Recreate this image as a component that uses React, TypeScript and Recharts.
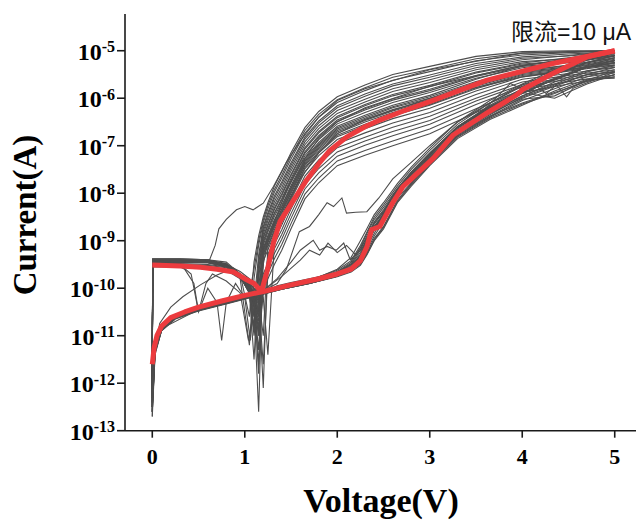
import { LineChart, Line, XAxis, YAxis } from 'recharts';

// voltage grids (V) for the two sweep directions
const V_UP = [5.0, 4.5, 4.0, 3.5, 3.0, 2.6, 2.3, 2.0, 1.8, 1.65, 1.5, 1.4, 1.32, 1.25, 1.2, 1.15, 1.1, 1.05, 0.95, 0.8, 0.6, 0.3, 0.004, 0];
const V_LOW = [0, 0.03, 0.1, 0.25, 0.5, 0.8, 1.1, 1.4, 1.7, 2.0, 2.15, 2.25, 2.32, 2.4, 2.5, 2.65, 2.8, 3.0, 3.3, 3.65, 4.0, 4.35, 4.7, 5.0];

// gray cycles, return sweep 5 -> 0 V (log10 of current)
const U01 = [-5.0, -5.0, -5.02, -5.12, -5.33, -5.5, -5.72, -5.97, -6.28, -6.62, -7.15, -7.55, -7.85, -8.2, -8.5, -8.9, -9.45, -10.6, -9.7, -9.45, -9.4, -9.38, -9.38, -12.5];
const U02 = [-5.0, -5.02, -5.05, -5.17, -5.39, -5.56, -5.78, -6.03, -6.34, -6.68, -7.21, -7.62, -7.92, -8.26, -8.56, -9.0, -9.6, -10.1, -9.75, -9.5, -9.42, -9.4, -9.4, -12.2];
const U03 = [-5.0, -5.04, -5.09, -5.21, -5.44, -5.62, -5.84, -6.09, -6.4, -6.74, -7.28, -7.68, -7.98, -8.33, -8.62, -9.1, -9.8, -11.2, -9.8, -9.52, -9.42, -9.4, -9.4, -12.7];
const U04 = [-5.02, -5.07, -5.13, -5.27, -5.51, -5.7, -5.91, -6.16, -6.48, -6.82, -7.36, -7.76, -8.06, -8.41, -8.7, -9.3, -10.3, -9.9, -9.7, -9.48, -9.4, -9.38, -9.38, -12.0];
const U05 = [-5.0, -5.1, -5.19, -5.36, -5.61, -5.8, -6.02, -6.26, -6.58, -6.92, -7.47, -7.88, -8.18, -8.52, -8.8, -9.5, -10.8, -10.0, -9.72, -9.5, -9.43, -9.42, -9.42, -12.3];
const U06 = [-5.03, -5.15, -5.26, -5.45, -5.73, -5.92, -6.13, -6.38, -6.7, -7.04, -7.6, -8.01, -8.31, -8.65, -8.92, -9.7, -11.5, -10.1, -9.75, -9.5, -9.42, -9.4, -9.4, -12.6];
const U07 = [-5.05, -5.2, -5.31, -5.52, -5.81, -6.01, -6.22, -6.46, -6.79, -7.13, -7.69, -8.11, -8.41, -8.74, -9.01, -10.0, -10.4, -10.0, -9.74, -9.52, -9.45, -9.43, -9.42, -12.1];
const U08 = [-5.1, -5.24, -5.36, -5.58, -5.88, -6.09, -6.3, -6.54, -6.87, -7.21, -7.77, -8.19, -8.49, -8.82, -9.09, -10.6, -10.2, -9.95, -9.72, -9.5, -9.44, -9.42, -9.42, -12.4];
const U09 = [-5.0, -5.16, -5.32, -5.6, -5.94, -6.15, -6.36, -6.59, -6.93, -7.27, -7.84, -8.26, -8.56, -8.89, -9.15, -11.0, -10.3, -10.0, -9.75, -9.52, -9.45, -9.43, -9.43, -12.2];
const U10 = [-5.15, -5.3, -5.42, -5.67, -6.0, -6.2, -6.42, -6.65, -6.99, -7.33, -7.9, -8.33, -8.63, -8.95, -9.2, -12.6, -10.4, -10.05, -9.78, -9.55, -9.46, -9.45, -9.45, -12.5];
const U11 = [-5.2, -5.36, -5.46, -5.72, -6.05, -6.27, -6.47, -6.71, -7.05, -7.39, -7.97, -8.39, -8.69, -9.02, -9.27, -10.5, -10.1, -9.95, -9.7, -9.5, -9.43, -9.42, -9.4, -11.9];
const U12 = [-5.25, -5.39, -5.5, -5.78, -6.13, -6.34, -6.55, -6.78, -7.12, -7.46, -8.05, -8.47, -8.77, -9.1, -9.34, -10.9, -10.2, -9.98, -9.72, -9.52, -9.45, -9.44, -9.44, -12.3];
const U13 = [-5.3, -5.43, -5.55, -5.85, -6.21, -6.43, -6.64, -6.87, -7.21, -7.55, -8.14, -8.57, -8.87, -9.19, -9.43, -11.3, -10.3, -10.0, -9.75, -9.55, -9.47, -9.46, -9.46, -12.6];
const U14 = [-5.35, -5.48, -5.6, -5.92, -6.3, -6.52, -6.73, -6.96, -7.3, -7.64, -8.24, -8.67, -8.97, -9.29, -12.1, -10.2, -10.0, -9.9, -9.7, -9.5, -9.43, -9.42, -9.42, -12.0];
const U15 = [-5.4, -5.52, -5.66, -6.0, -6.38, -6.61, -6.82, -7.04, -7.39, -7.73, -8.33, -8.77, -9.07, -11.4, -10.2, -10.0, -9.9, -9.8, -9.65, -9.5, -9.45, -9.44, -9.44, -12.2];
const U16 = [-5.44, -5.56, -5.71, -6.06, -6.47, -6.7, -6.9, -7.13, -7.48, -7.82, -8.43, -8.87, -9.17, -9.48, -9.7, -11.8, -10.2, -9.95, -9.72, -9.55, -9.5, -9.48, -9.48, -12.4];
const U17 = [-5.47, -5.6, -5.76, -6.13, -6.55, -6.79, -6.99, -7.22, -7.57, -7.91, -8.53, -8.97, -9.27, -9.58, -9.79, -10.6, -10.1, -9.95, -9.75, -9.57, -9.52, -9.5, -9.5, -12.0];
const U18 = [-5.51, -5.65, -5.82, -6.22, -6.65, -6.9, -7.1, -7.32, -7.68, -8.02, -8.64, -9.08, -9.38, -9.69, -11.6, -10.3, -10.05, -9.95, -9.78, -9.6, -9.55, -9.53, -9.52, -12.3];
const U19 = [-5.55, -5.7, -5.88, -6.3, -6.75, -7.0, -7.2, -7.42, -7.78, -8.12, -8.75, -9.2, -9.5, -9.8, -10.0, -10.8, -10.25, -10.0, -9.8, -9.62, -9.56, -9.55, -9.55, -12.1];
const U20 = [-5.02, -5.11, -5.16, -5.31, -5.56, -5.74, -5.96, -6.2, -6.52, -6.86, -7.41, -7.81, -8.11, -8.46, -8.74, -9.4, -10.6, -10.0, -9.72, -9.5, -9.42, -9.4, -9.4, -12.3];
const U21 = [-5.06, -5.17, -5.23, -5.4, -5.67, -5.86, -6.08, -6.32, -6.64, -6.98, -7.53, -7.95, -8.25, -8.58, -8.86, -9.6, -10.9, -10.05, -9.74, -9.5, -9.43, -9.41, -9.41, -12.5];
const U22 = [-5.08, -5.21, -5.28, -5.47, -5.76, -5.95, -6.16, -6.41, -6.73, -7.07, -7.63, -8.05, -8.35, -8.68, -8.95, -9.8, -10.6, -10.0, -9.73, -9.5, -9.43, -9.41, -9.41, -12.2];
const U23 = [-5.12, -5.25, -5.33, -5.54, -5.84, -6.04, -6.25, -6.49, -6.82, -7.16, -7.73, -8.14, -8.44, -8.78, -9.04, -10.2, -11.0, -10.1, -9.76, -9.53, -9.46, -9.44, -9.44, -12.4];
const U24 = [-5.15, -5.32, -5.41, -5.65, -5.97, -6.18, -6.39, -6.62, -6.96, -7.3, -7.87, -8.29, -8.59, -8.92, -9.18, -10.7, -10.3, -10.0, -9.74, -9.52, -9.45, -9.43, -9.43, -12.6];
const U25 = [-5.18, -5.34, -5.44, -5.7, -6.03, -6.24, -6.45, -6.68, -7.02, -7.36, -7.93, -8.36, -8.66, -8.98, -9.24, -11.6, -10.2, -9.98, -9.73, -9.5, -9.44, -9.42, -9.42, -12.0];
const U26 = [-5.22, -5.37, -5.48, -5.75, -6.08, -6.3, -6.5, -6.74, -7.08, -7.42, -8.0, -8.42, -8.72, -9.05, -9.3, -10.4, -10.9, -10.1, -9.76, -9.53, -9.46, -9.45, -9.45, -12.3];
const U27 = [-5.27, -5.41, -5.52, -5.8, -6.15, -6.37, -6.58, -6.81, -7.15, -7.49, -8.08, -8.51, -8.81, -9.13, -11.0, -10.2, -10.0, -9.92, -9.72, -9.52, -9.45, -9.44, -9.44, -12.5];

// gray cycles, forward sweep 0 -> 5 V
const L01 = [-12.4, -11.3, -10.85, -10.6, -10.42, -10.27, -10.12, -9.97, -9.85, -9.6, -9.35, -9.0, -8.75, -8.45, -8.2, -7.8, -7.45, -7.05, -6.5, -6.05, -5.7, -5.4, -5.15, -5.02];
const L02 = [-12.1, -11.25, -10.82, -10.58, -10.43, -10.28, -10.13, -9.98, -9.86, -9.65, -9.45, -9.15, -8.85, -8.55, -8.3, -7.9, -7.55, -7.15, -6.6, -6.15, -5.8, -5.5, -5.25, -5.1];
const L03 = [-12.6, -11.35, -10.88, -10.62, -10.45, -10.3, -10.15, -10.0, -9.88, -9.72, -9.55, -9.3, -9.0, -8.65, -8.4, -7.95, -7.6, -7.2, -6.62, -6.2, -5.9, -5.6, -5.35, -5.2];
const L04 = [-12.3, -11.2, -10.8, -10.57, -10.42, -10.27, -10.12, -9.96, -9.85, -9.68, -9.5, -9.25, -8.95, -8.7, -8.45, -8.0, -7.65, -7.25, -6.7, -6.3, -5.95, -5.7, -5.45, -5.3];
const L05 = [-12.7, -11.4, -10.9, -10.65, -10.48, -10.33, -10.18, -10.02, -9.9, -9.75, -9.62, -9.45, -9.2, -8.9, -8.6, -8.1, -7.78, -7.38, -6.8, -6.4, -6.05, -5.8, -5.55, -5.4];
const L06 = [-12.2, -11.3, -10.86, -10.6, -10.44, -10.29, -10.14, -9.99, -9.87, -9.7, -9.55, -9.35, -9.05, -8.75, -8.5, -7.98, -7.62, -7.22, -6.62, -6.2, -5.88, -6.0, -5.7, -5.5];
const L07 = [-12.5, -11.35, -10.9, -10.63, -10.46, -10.31, -10.16, -10.01, -9.89, -9.74, -9.6, -9.4, -9.1, -8.72, -8.52, -8.02, -7.68, -7.28, -6.72, -6.32, -6.0, -5.75, -5.5, -5.45];
const L08 = [-12.0, -11.3, -10.87, -10.62, -10.46, -10.31, -10.16, -10.02, -9.9, -9.76, -9.66, -9.52, -9.3, -9.0, -8.75, -8.2, -7.85, -7.42, -6.85, -6.45, -6.15, -5.85, -5.6, -5.58];
const L09 = [-12.6, -11.25, -10.84, -10.59, -10.43, -10.28, -10.13, -9.98, -9.86, -9.68, -9.52, -9.3, -8.98, -8.62, -8.38, -7.92, -7.58, -7.18, -6.6, -6.18, -5.82, -5.62, -5.35, -5.25];
const L10 = [-12.3, -11.3, -10.86, -10.6, -10.44, -10.29, -10.14, -9.99, -9.87, -9.72, -9.58, -9.38, -9.08, -8.78, -8.55, -8.05, -7.7, -7.3, -6.75, -6.35, -5.98, -5.72, -5.5, -5.35];
const L11 = [-12.4, -11.3, -10.88, -10.63, -10.47, -10.32, -10.17, -10.02, -9.9, -9.74, -9.62, -9.48, -9.25, -8.95, -8.7, -8.15, -7.8, -7.35, -6.78, -6.38, -6.1, -5.88, -5.65, -5.5];
const L12 = [-12.0, -11.2, -10.78, -10.55, -10.4, -10.25, -10.1, -9.95, -9.83, -9.62, -9.42, -9.1, -8.82, -8.5, -8.25, -7.85, -7.5, -7.1, -6.55, -6.1, -5.72, -5.45, -5.2, -5.05];
const L13 = [-12.2, -11.28, -10.84, -10.6, -10.44, -10.29, -10.14, -9.99, -9.87, -9.66, -9.48, -9.2, -8.9, -8.6, -8.35, -7.92, -7.56, -7.16, -6.6, -6.17, -5.84, -5.58, -5.32, -5.15];
const L14 = [-12.5, -11.33, -10.87, -10.61, -10.45, -10.3, -10.15, -10.0, -9.88, -9.73, -9.58, -9.36, -9.06, -8.7, -8.48, -8.0, -7.66, -7.26, -6.7, -6.3, -5.96, -5.66, -5.42, -5.32];
const L15 = [-12.0, -11.27, -10.85, -10.6, -10.44, -10.29, -10.14, -9.99, -9.87, -9.7, -9.56, -9.33, -9.03, -8.74, -8.48, -8.0, -7.68, -7.3, -6.75, -6.38, -6.02, -5.95, -5.62, -5.42];
const L16 = [-12.6, -11.36, -10.89, -10.63, -10.47, -10.32, -10.17, -10.02, -9.9, -9.75, -9.63, -9.5, -9.28, -8.98, -8.72, -8.18, -7.82, -7.4, -6.82, -6.42, -6.12, -5.9, -5.62, -5.55];

// a few noisy cycles with their own voltage points
const N1_V = [5.0, 4.0, 3.0, 2.3, 2.0, 1.8, 1.6, 1.45, 1.31, 1.2, 1.09, 1.0, 0.91, 0.8, 0.72, 0.68, 0.62, 0.3, 0.004, 0];
const N1 = [-5.0, -5.05, -5.4, -5.8, -6.05, -6.4, -6.9, -7.35, -7.86, -8.21, -8.35, -8.28, -8.35, -8.55, -8.75, -9.1, -9.4, -9.4, -9.4, -12.4];
const N2_V = [0, 0.03, 0.1, 0.5, 0.8, 1.2, 1.35, 1.45, 1.59, 1.7, 1.8, 1.89, 1.96, 2.05, 2.1, 2.2, 2.32, 2.45, 2.6, 2.8, 3.0, 3.3, 3.65, 4.0, 4.35, 4.7, 5.0];
const N2 = [-12.3, -11.3, -10.85, -10.45, -10.3, -10.05, -9.9, -9.6, -8.81, -8.7, -8.45, -8.2, -8.28, -8.1, -8.42, -8.4, -8.39, -8.1, -7.7, -7.35, -7.0, -6.5, -6.1, -5.75, -5.5, -5.25, -5.1];
const N3_V = [1.2, 1.35, 1.5, 1.6, 1.74, 1.81, 1.89, 1.99, 2.07, 2.14, 2.25, 2.35, 2.45, 2.6, 2.8, 3.0, 3.3, 3.65, 4.0, 4.35, 4.7, 5.0];
const N3 = [-10.05, -9.8, -9.45, -9.2, -8.99, -9.2, -9.12, -9.2, -9.05, -9.4, -9.2, -8.95, -8.6, -8.05, -7.6, -7.2, -6.62, -6.22, -5.88, -5.6, -5.35, -5.3];
const N4_V = [1.2, 1.4, 1.6, 1.7, 1.81, 1.9, 2.0, 2.1, 2.2, 2.3, 2.4, 2.55, 2.7, 2.9, 3.1, 3.4, 3.8, 3.87, 3.98, 4.08, 4.16, 4.26, 4.37, 4.48, 4.55, 5.0];
const N4 = [-10.05, -9.75, -9.41, -9.2, -9.3, -9.05, -9.25, -9.1, -9.3, -9.0, -8.7, -8.3, -7.9, -7.55, -7.15, -6.6, -5.83, -5.69, -5.79, -5.86, -5.76, -5.9, -5.72, -5.97, -5.79, -5.45];
const N5_V = [5.0, 4.0, 3.0, 2.3, 2.0, 1.8, 1.6, 1.45, 1.35, 1.25, 1.18, 1.1, 1.06, 1.0, 0.9, 0.8, 0.75, 0.7, 0.6, 0.5, 0.45, 0.35, 0.2, 0.004, 0];
const N5 = [-5.25, -5.55, -6.0, -6.45, -6.75, -7.15, -7.7, -8.3, -8.8, -9.35, -10.4, -10.2, -11.1, -10.2, -9.9, -10.3, -11.1, -10.3, -10.0, -10.5, -9.9, -9.6, -9.45, -9.42, -12.2];
const N6_V = [0, 0.03, 0.08, 0.2, 0.33, 0.52, 0.7, 0.88, 1.0, 1.1, 1.15, 1.2, 1.35, 1.5, 1.8, 2.0, 2.2, 2.3, 2.4, 2.5, 2.65, 2.8, 3.0, 3.3, 3.65, 4.0, 4.35, 4.7, 5.0];
const N6 = [-12.5, -11.3, -10.74, -10.4, -10.18, -9.93, -9.72, -9.58, -9.8, -10.3, -11.0, -10.1, -9.95, -9.88, -9.76, -9.66, -9.45, -9.2, -8.85, -8.5, -8.0, -7.65, -7.25, -6.65, -6.25, -5.9, -5.6, -5.35, -5.2];
const N7_V = [5.0, 4.0, 3.0, 2.3, 2.0, 1.8, 1.6, 1.45, 1.35, 1.25, 1.2, 1.15, 1.1, 1.04, 0.95, 0.8, 0.65, 0.58, 0.5, 0.42, 0.3, 0.004, 0];
const N7 = [-5.1, -5.3, -5.75, -6.2, -6.5, -6.85, -7.4, -7.95, -8.45, -9.0, -9.5, -10.1, -10.4, -11.1, -10.1, -9.85, -9.7, -9.9, -10.5, -9.7, -9.5, -9.45, -12.5];

// highlighted cycle (red)
const RED_V_FWD = [0, 0.02, 0.05, 0.1, 0.2, 0.35, 0.5, 0.75, 1.0, 1.2, 1.5, 1.8, 2.0, 2.15, 2.25, 2.32, 2.37, 2.46, 2.6, 2.71, 2.79, 3.04, 3.25, 3.62, 3.94, 4.01, 4.33, 4.7, 5.0];
const RED_FWD = [-11.6, -11.25, -11.0, -10.8, -10.62, -10.5, -10.4, -10.27, -10.15, -10.07, -9.93, -9.8, -9.7, -9.6, -9.42, -9.13, -8.77, -8.7, -8.2, -7.86, -7.72, -7.26, -6.78, -6.31, -5.93, -5.81, -5.48, -5.13, -5.0];
const RED_V_REV = [5.0, 4.33, 3.62, 3.0, 2.7, 2.46, 2.3, 2.1, 1.92, 1.8, 1.67, 1.53, 1.38, 1.31, 1.24, 1.18, 1.1, 1.0, 0.88, 0.7, 0.52, 0.3, 0];
const RED_REV = [-5.0, -5.27, -5.62, -6.07, -6.28, -6.46, -6.6, -6.82, -7.1, -7.38, -7.72, -8.14, -8.6, -9.05, -9.65, -10.07, -9.9, -9.8, -9.66, -9.6, -9.56, -9.53, -9.51];

const UPPER = [U01, U02, U03, U04, U05, U06, U07, U08, U09, U10, U11, U12, U13, U14, U15, U16, U17, U18, U19, U20, U21, U22, U23, U24, U25, U26, U27];
const LOWER = [L01, L02, L03, L04, L05, L06, L07, L08, L09, L10, L11, L12, L13, L14, L15, L16];
const NOISY: [number[], number[]][] = [[N1_V, N1], [N2_V, N2], [N3_V, N3], [N4_V, N4], [N5_V, N5], [N6_V, N6], [N7_V, N7]];

const X_TICKS = [0, 1, 2, 3, 4, 5];
const Y_TICKS = [1e-13, 1e-12, 1e-11, 1e-10, 1e-9, 1e-8, 1e-7, 1e-6, 1e-5];

const toPts = (vs: number[], exps: number[]) =>
  vs.map((v, k) => ({ v, i: Math.pow(10, exps[k]) }));

const SERIF = '"Liberation Serif", "Times New Roman", serif';
const GRAY = '#4d4d4d';
const RED = '#ec3b3e';
const AXIS = '#1a1a1a';

function YTick({ x, y, payload }: any) {
  const exp = Math.round(Math.log10(payload.value));
  return (
    <text x={x} y={y + 9} textAnchor="end" fontFamily={SERIF} fontWeight="bold" fontSize={24} fill="#000">
      10
      <tspan dy={-7.5} fontSize={16}>{exp}</tspan>
    </text>
  );
}

function XTick({ x, y, payload }: any) {
  return (
    <text x={x} y={y + 24} textAnchor="middle" fontFamily={SERIF} fontWeight="bold" fontSize={22} fill="#000">
      {payload.value}
    </text>
  );
}

export default function App() {
  const series: { key: string; pts: { v: number; i: number }[] }[] = [];
  LOWER.forEach((c, k) => series.push({ key: 'L' + k, pts: toPts(V_LOW, c) }));
  UPPER.forEach((c, k) => series.push({ key: 'U' + k, pts: toPts(V_UP, c) }));
  NOISY.forEach(([vs, c], k) => series.push({ key: 'N' + k, pts: toPts(vs, c) }));

  return (
    <div style={{ position: 'absolute', left: 0, top: 0, width: 636, height: 520, background: '#fff' }}>
      <LineChart width={636} height={520} margin={{ top: 14, right: 0, bottom: 59.3, left: 45 }}>
        <XAxis
          type="number"
          dataKey="v"
          domain={[-0.295, 5.23]}
          ticks={X_TICKS}
          interval={0}
          allowDataOverflow
          height={30}
          tickSize={7}
          axisLine={{ stroke: AXIS, strokeWidth: 1.6 }}
          tickLine={{ stroke: AXIS, strokeWidth: 1.6 }}
          tick={<XTick />}
        />
        <XAxis
          xAxisId="top"
          orientation="top"
          type="number"
          dataKey="v"
          domain={[-0.295, 5.23]}
          height={0}
          tick={false}
          tickLine={false}
          axisLine={{ stroke: '#444', strokeWidth: 1.8 }}
        />
        <YAxis
          type="number"
          scale="log"
          domain={[1e-13, 5.93e-5]}
          ticks={Y_TICKS}
          interval={0}
          allowDataOverflow
          width={80}
          tickSize={8}
          axisLine={{ stroke: AXIS, strokeWidth: 1.6 }}
          tickLine={{ stroke: AXIS, strokeWidth: 1.6 }}
          tick={<YTick />}
        />
        {series.map((s) => (
          <Line
            key={s.key}
            data={s.pts}
            dataKey="i"
            type="linear"
            stroke={GRAY}
            strokeWidth={1.1}
            dot={false}
            activeDot={false}
            isAnimationActive={false}
          />
        ))}
        <Line data={toPts(RED_V_FWD, RED_FWD)} dataKey="i" type="linear" stroke={RED} strokeWidth={5} strokeLinejoin="round" dot={false} activeDot={false} isAnimationActive={false} />
        <Line data={toPts(RED_V_REV, RED_REV)} dataKey="i" type="linear" stroke={RED} strokeWidth={5} strokeLinejoin="round" dot={false} activeDot={false} isAnimationActive={false} />
      </LineChart>
      <svg width={636} height={520} style={{ position: 'absolute', left: 0, top: 0, pointerEvents: 'none' }}>
        <text transform="translate(35.5,215) rotate(-90)" textAnchor="middle" fontFamily={SERIF} fontWeight="bold" fontSize={33} fill="#000">
          Current(A)
        </text>
        <text x={381} y={512} textAnchor="middle" fontFamily={SERIF} fontWeight="bold" fontSize={34} fill="#000">
          Voltage(V)
        </text>
        <text x={511} y={40} fontFamily='"Liberation Sans", "Noto Sans CJK SC", sans-serif' fontSize={23} fill="#111">
          限流=10 μA
        </text>
      </svg>
    </div>
  );
}
